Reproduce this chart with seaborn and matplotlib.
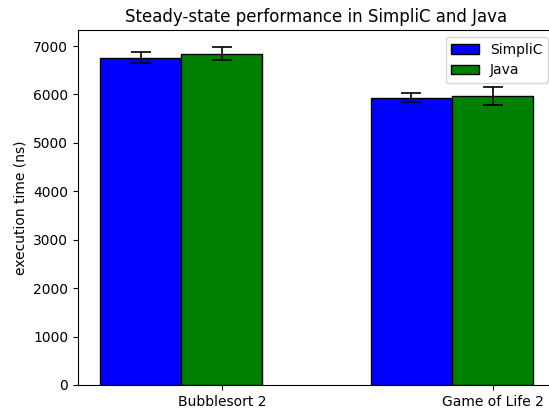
import numpy as np
import pandas as pd
import matplotlib
matplotlib.use("Agg")
import matplotlib.pyplot as plt
import seaborn as sns
from matplotlib.patches import Patch

benchmarks = ["Bubblesort 2", "Game of Life 2"]
simplic_mean = [6760, 5935]
simplic_err = [115, 90]
java_mean = [6843, 5970]
java_err = [140, 190]

width = 0.3
pos = np.arange(len(benchmarks), dtype=float)

fig = plt.figure(figsize=(5.49, 4.08), dpi=100)
ax = fig.add_axes([0.1421, 0.0564, 0.869, 0.870])

df_s = pd.DataFrame({"x": pos, "y": simplic_mean})
df_j = pd.DataFrame({"x": pos + width, "y": java_mean})

sns.barplot(data=df_s, x="x", y="y", native_scale=True, width=width,
            color="blue", saturation=1, edgecolor="black", linewidth=1,
            errorbar=None, ax=ax)
sns.barplot(data=df_j, x="x", y="y", native_scale=True, width=width,
            color="green", saturation=1, edgecolor="black", linewidth=1,
            errorbar=None, ax=ax)

ax.errorbar(pos, simplic_mean, yerr=simplic_err, fmt="none", ecolor="black",
            capsize=7, elinewidth=1.2, capthick=1.2)
ax.errorbar(pos + width, java_mean, yerr=java_err, fmt="none", ecolor="black",
            capsize=7, elinewidth=1.2, capthick=1.2)

ax.set_xticks(pos + width)
ax.set_xticklabels(benchmarks)
ax.set_xlim(-0.2306, 1.53)
ax.set_ylim(0, 7330)
ax.set_xlabel("")
ax.set_ylabel("execution time (ns)")
ax.set_title("Steady-state performance in SimpliC and Java")

handles = [Patch(facecolor="blue", edgecolor="black", label="SimpliC"),
           Patch(facecolor="green", edgecolor="black", label="Java")]
ax.legend(handles=handles, loc="upper right")

fig.savefig("out.png", dpi=100)
